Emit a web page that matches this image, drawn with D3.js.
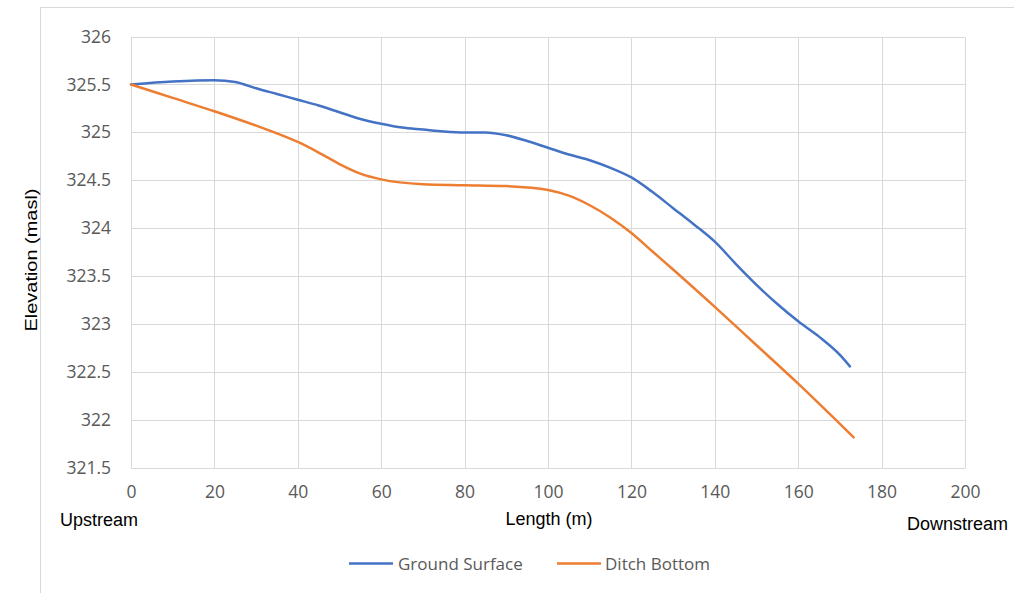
<!DOCTYPE html>
<html>
<head>
<meta charset="utf-8">
<script src="https://cdn.jsdelivr.net/npm/d3@7"></script>
<style>
  html, body { margin: 0; padding: 0; background: #fff; }
  svg { display: block; }
</style>
</head>
<body>
<svg id="chart" width="1014" height="593"></svg>
<script>
// ---- data ----
const groundX = [0, 10, 20, 25, 30, 35, 40, 45, 50, 55, 60, 65, 70, 75, 80, 85, 90, 95, 100, 105, 110, 115, 120, 125, 130, 135, 140, 145, 150, 155, 160, 165, 170, 172.4];
const groundY = [325.5, 325.53, 325.545, 325.525, 325.46, 325.4, 325.34, 325.28, 325.21, 325.14, 325.09, 325.05, 325.03, 325.01, 325.0, 325.0, 324.97, 324.91, 324.84, 324.77, 324.71, 324.63, 324.53, 324.38, 324.21, 324.04, 323.86, 323.63, 323.41, 323.21, 323.03, 322.87, 322.68, 322.56];
const ditchX = [0, 10, 20, 30, 35, 40, 45, 50, 55, 60, 70, 80, 90, 100, 105, 110, 115, 120, 125, 130, 140, 150, 160, 170, 173.3];
const ditchY = [325.5, 325.36, 325.22, 325.07, 324.99, 324.9, 324.79, 324.67, 324.57, 324.51, 324.46, 324.45, 324.44, 324.4, 324.34, 324.24, 324.11, 323.95, 323.76, 323.57, 323.18, 322.78, 322.38, 321.96, 321.82];
const xTicks = [0, 20, 40, 60, 80, 100, 120, 140, 160, 180, 200];
const yTicks = [321.5, 322, 322.5, 323, 323.5, 324, 324.5, 325, 325.5, 326];
const seriesNames = ["Ground Surface", "Ditch Bottom"];
const seriesColors = ["#4472C4", "#ED7D31"];

const svg = d3.select("#chart");
const W = 1014, H = 593;

// outer chart border (partially visible)
svg.append("line").attr("x1", 40.5).attr("x2", W).attr("y1", 7.5).attr("y2", 7.5)
  .attr("stroke", "#d9d9d9").attr("stroke-width", 1);
svg.append("line").attr("x1", 40.5).attr("x2", 40.5).attr("y1", 7.5).attr("y2", H)
  .attr("stroke", "#d9d9d9").attr("stroke-width", 1);

const x = d3.scaleLinear().domain([0, 200]).range([131, 965]);
const y = d3.scaleLinear().domain([321.5, 326]).range([468, 36.5]);

// gridlines
const g = svg.append("g");
g.selectAll("line.h").data(yTicks).enter().append("line")
  .attr("x1", x(0)).attr("x2", x(200))
  .attr("y1", d => Math.round(y(d)) + 0.5).attr("y2", d => Math.round(y(d)) + 0.5)
  .attr("stroke", "#d9d9d9").attr("stroke-width", 1);
g.selectAll("line.v").data(xTicks).enter().append("line")
  .attr("y1", Math.round(y(326)) + 0.5).attr("y2", Math.round(y(321.5)) + 0.5)
  .attr("x1", d => Math.round(x(d)) + 0.5).attr("x2", d => Math.round(x(d)) + 0.5)
  .attr("stroke", "#d9d9d9").attr("stroke-width", 1);

// axes (labels only, via d3 axes)
const tickFont = "'Open Sans', sans-serif";
const xAxis = svg.append("g").attr("transform", `translate(0,${y(321.5)})`)
  .call(d3.axisBottom(x).tickValues(xTicks).tickSize(0).tickPadding(17.5).tickFormat(d3.format("d")));
xAxis.select(".domain").remove();
xAxis.selectAll("text").attr("font-family", tickFont).attr("font-size", 17.5).attr("fill", "#595959");

const yAxis = svg.append("g").attr("transform", `translate(${x(0)},0)`)
  .call(d3.axisLeft(y).tickValues(yTicks).tickSize(0).tickPadding(20).tickFormat(d => d3.format("")(d)));
yAxis.select(".domain").remove();
yAxis.selectAll("text").attr("font-family", tickFont).attr("font-size", 17.5).attr("fill", "#595959");

// lines
const line = d3.line().x(d => x(d[0])).y(d => y(d[1])).curve(d3.curveMonotoneX);
const series = [
  d3.zip(groundX, groundY),
  d3.zip(ditchX, ditchY)
];
svg.selectAll("path.series").data(series).enter().append("path")
  .attr("d", line)
  .attr("fill", "none")
  .attr("stroke", (d, i) => seriesColors[i])
  .attr("stroke-width", 2.5)
  .attr("stroke-linejoin", "round")
  .attr("stroke-linecap", "round");

// axis titles
const titleFont = "'Liberation Sans', Arial, sans-serif";
svg.append("text").attr("x", 60).attr("y", 526).text("Upstream")
  .attr("font-family", titleFont).attr("font-size", 18).attr("fill", "#000");
svg.append("text").attr("x", 549).attr("y", 524.5).attr("text-anchor", "middle").text("Length (m)")
  .attr("font-family", titleFont).attr("font-size", 18).attr("fill", "#000");
svg.append("text").attr("x", 907).attr("y", 529.5).text("Downstream")
  .attr("font-family", titleFont).attr("font-size", 18).attr("fill", "#000");
svg.append("text").attr("transform", "translate(36.5,260) rotate(-90)").attr("text-anchor", "middle")
  .text("Elevation (masl)")
  .attr("textLength", 143).attr("lengthAdjust", "spacingAndGlyphs")
  .attr("font-family", titleFont).attr("font-size", 17).attr("fill", "#000");

// legend
const legendItems = [{x: 349, tx: 398}, {x: 557, tx: 605}];
const leg = svg.append("g");
legendItems.forEach((it, i) => {
  leg.append("line").attr("x1", it.x).attr("x2", it.x + 44).attr("y1", 563.5).attr("y2", 563.5)
    .attr("stroke", seriesColors[i]).attr("stroke-width", 2.5);
  leg.append("text").attr("x", it.tx).attr("y", 569.5).text(seriesNames[i])
    .attr("font-family", tickFont).attr("font-size", 17).attr("fill", "#595959");
});
</script>
</body>
</html>
